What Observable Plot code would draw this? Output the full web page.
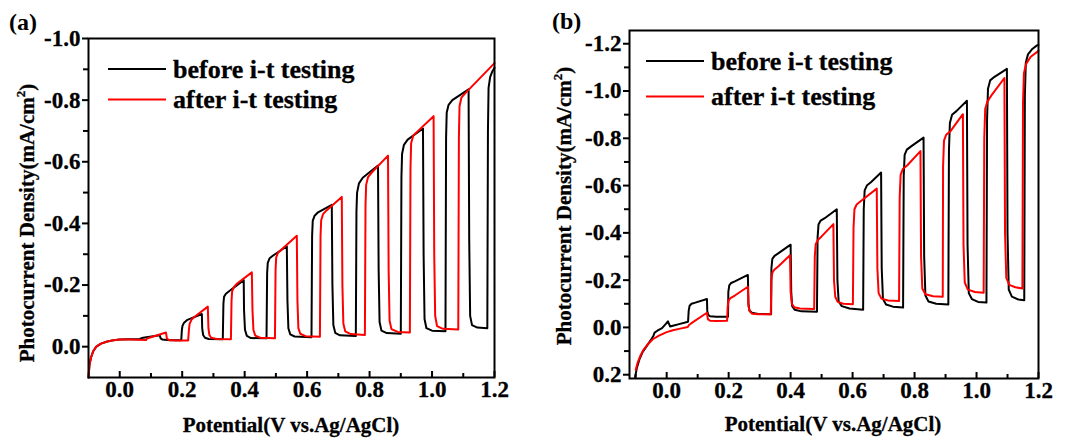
<!DOCTYPE html>
<html><head><meta charset="utf-8">
<script src="https://cdn.jsdelivr.net/npm/d3@7"></script>
<script src="https://cdn.jsdelivr.net/npm/@observablehq/plot@0.6"></script>
<style>
html,body{margin:0;padding:0;background:#fff;}
#wrap{display:flex;width:1071px;height:442px;overflow:hidden;}
#wrap svg{flex:none;}
</style></head><body><div id="wrap"></div>
<script>
// ---------- tick values ----------
const aXTicks = [0.0, 0.2, 0.4, 0.6, 0.8, 1.0, 1.2];
const aXMinor = [0.1, 0.3, 0.5, 0.7, 0.9, 1.1];
const aYTicks = [-1.0, -0.8, -0.6, -0.4, -0.2, 0.0];
const aYMinor = [-0.9, -0.7, -0.5, -0.3, -0.1];
const bXTicks = [0.0, 0.2, 0.4, 0.6, 0.8, 1.0, 1.2];
const bXMinor = [-0.1, 0.1, 0.3, 0.5, 0.7, 0.9, 1.1];
const bYTicks = [-1.2, -1.0, -0.8, -0.6, -0.4, -0.2, 0.0, 0.2];
const bYMinor = [-1.1, -0.9, -0.7, -0.5, -0.3, -0.1, 0.1];

const seriesNames = ["before i-t testing", "after i-t testing"];
const xTitle = "Potential(V vs.Ag/AgCl)";

// ---------- panel (a) : [potential V, current density mA/cm2] ----------
const aBefore = [
  [-0.1,0.1],[-0.097,0.06],[-0.092,0.035],[-0.085,0.015],[-0.075,0.0],[-0.06,-0.01],[-0.04,-0.017],[-0.02,-0.021],[0.0,-0.023],[0.03,-0.024],[0.065,-0.024],
  [0.067,-0.027],[0.075,-0.029],[0.128,-0.037],[0.131,-0.027],[0.137,-0.023],[0.16,-0.021],[0.197,-0.021],
  [0.199,-0.055],[0.201,-0.068],[0.206,-0.078],[0.215,-0.086],[0.263,-0.106],[0.264,-0.06],[0.267,-0.038],[0.273,-0.029],[0.285,-0.025],[0.33,-0.024],
  [0.332,-0.14],[0.334,-0.162],[0.34,-0.172],[0.35,-0.18],[0.397,-0.216],[0.398,-0.12],[0.401,-0.055],[0.407,-0.035],[0.42,-0.028],[0.47,-0.027],
  [0.472,-0.24],[0.474,-0.272],[0.48,-0.287],[0.49,-0.295],[0.535,-0.326],[0.537,-0.15],[0.54,-0.06],[0.546,-0.04],[0.56,-0.033],[0.614,-0.031],
  [0.616,-0.36],[0.618,-0.408],[0.624,-0.425],[0.635,-0.436],[0.679,-0.46],[0.681,-0.2],[0.684,-0.07],[0.69,-0.045],[0.705,-0.037],[0.756,-0.035],
  [0.758,-0.44],[0.76,-0.5],[0.766,-0.53],[0.778,-0.548],[0.827,-0.588],[0.829,-0.25],[0.832,-0.08],[0.838,-0.052],[0.855,-0.044],[0.9,-0.042],
  [0.902,-0.55],[0.904,-0.625],[0.91,-0.655],[0.922,-0.672],[0.971,-0.708],[0.973,-0.3],[0.976,-0.09],[0.982,-0.06],[1.0,-0.052],[1.043,-0.05],
  [1.045,-0.68],[1.047,-0.76],[1.053,-0.785],[1.065,-0.8],[1.117,-0.835],[1.119,-0.35],[1.122,-0.1],[1.128,-0.07],[1.145,-0.062],[1.177,-0.06],
  [1.179,-0.7],[1.181,-0.84],[1.186,-0.875],[1.193,-0.893],[1.2,-0.905]
];
const aAfter = [
  [-0.1,0.1],[-0.097,0.06],[-0.092,0.035],[-0.085,0.015],[-0.075,0.0],[-0.06,-0.01],[-0.04,-0.017],[-0.02,-0.021],[0.0,-0.023],[0.03,-0.023],[0.085,-0.022],
  [0.087,-0.026],[0.095,-0.029],[0.148,-0.046],[0.151,-0.027],[0.157,-0.022],[0.18,-0.02],[0.219,-0.02],
  [0.222,-0.06],[0.224,-0.075],[0.23,-0.088],[0.24,-0.097],[0.282,-0.13],[0.284,-0.06],[0.287,-0.038],[0.293,-0.029],[0.31,-0.025],[0.356,-0.024],
  [0.358,-0.15],[0.36,-0.18],[0.366,-0.194],[0.376,-0.205],[0.423,-0.241],[0.425,-0.12],[0.428,-0.055],[0.434,-0.036],[0.45,-0.029],[0.497,-0.027],
  [0.499,-0.25],[0.501,-0.29],[0.507,-0.305],[0.518,-0.315],[0.567,-0.36],[0.569,-0.15],[0.572,-0.06],[0.578,-0.042],[0.595,-0.034],[0.641,-0.032],
  [0.643,-0.36],[0.645,-0.41],[0.651,-0.43],[0.663,-0.443],[0.711,-0.486],[0.713,-0.2],[0.716,-0.075],[0.722,-0.05],[0.74,-0.041],[0.785,-0.038],
  [0.787,-0.46],[0.789,-0.525],[0.795,-0.55],[0.807,-0.565],[0.859,-0.62],[0.861,-0.25],[0.864,-0.085],[0.87,-0.057],[0.89,-0.048],[0.929,-0.046],
  [0.931,-0.58],[0.933,-0.66],[0.94,-0.685],[0.952,-0.697],[1.005,-0.748],[1.007,-0.3],[1.01,-0.1],[1.016,-0.067],[1.035,-0.058],[1.084,-0.056],
  [1.086,-0.68],[1.088,-0.78],[1.094,-0.808],[1.106,-0.822],[1.2,-0.92]
];

// ---------- panel (b) ----------
const bBefore = [
  [-0.102,0.21],[-0.096,0.17],[-0.088,0.135],[-0.078,0.105],[-0.065,0.08],[-0.052,0.055],[-0.043,0.036],[-0.039,0.022],[-0.03,0.014],[-0.015,0.003],[-0.002,-0.016],[0.004,-0.026],[0.011,-0.004],[0.02,-0.007],[0.04,-0.014],[0.069,-0.024],
  [0.071,-0.07],[0.074,-0.092],[0.08,-0.1],[0.09,-0.104],[0.13,-0.12],[0.131,-0.07],[0.134,-0.053],[0.14,-0.047],[0.16,-0.045],[0.198,-0.045],
  [0.199,-0.15],[0.202,-0.178],[0.208,-0.188],[0.22,-0.195],[0.262,-0.222],[0.264,-0.1],[0.267,-0.072],[0.275,-0.062],[0.295,-0.057],[0.337,-0.056],
  [0.338,-0.25],[0.341,-0.29],[0.348,-0.303],[0.36,-0.313],[0.4,-0.35],[0.402,-0.15],[0.405,-0.09],[0.413,-0.075],[0.435,-0.068],[0.485,-0.066],
  [0.487,-0.38],[0.49,-0.435],[0.497,-0.452],[0.51,-0.462],[0.549,-0.5],[0.551,-0.2],[0.555,-0.11],[0.565,-0.09],[0.59,-0.08],[0.634,-0.075],
  [0.636,-0.5],[0.639,-0.58],[0.646,-0.6],[0.66,-0.615],[0.692,-0.655],[0.694,-0.25],[0.698,-0.12],[0.708,-0.097],[0.73,-0.088],[0.763,-0.084],
  [0.765,-0.64],[0.768,-0.73],[0.775,-0.752],[0.79,-0.767],[0.829,-0.803],[0.831,-0.3],[0.835,-0.135],[0.845,-0.11],[0.87,-0.1],[0.909,-0.097],
  [0.911,-0.75],[0.914,-0.865],[0.921,-0.9],[0.935,-0.915],[0.969,-0.959],[0.971,-0.35],[0.975,-0.145],[0.985,-0.12],[1.005,-0.108],[1.032,-0.105],
  [1.034,-0.88],[1.037,-1.01],[1.044,-1.045],[1.058,-1.06],[1.098,-1.094],[1.1,-0.4],[1.104,-0.16],[1.114,-0.13],[1.135,-0.118],[1.154,-0.115],
  [1.156,-0.98],[1.159,-1.12],[1.166,-1.155],[1.18,-1.178],[1.195,-1.193],[1.2,-1.195]
];
const bAfter = [
  [-0.1,0.18],[-0.094,0.15],[-0.085,0.12],[-0.075,0.095],[-0.06,0.07],[-0.045,0.05],[-0.025,0.035],[0.0,0.02],[0.02,0.012],[0.04,0.006],[0.068,-0.002],
  [0.072,-0.01],[0.08,-0.018],[0.13,-0.062],[0.133,-0.035],[0.14,-0.028],[0.16,-0.027],[0.195,-0.028],
  [0.197,-0.09],[0.2,-0.115],[0.207,-0.125],[0.22,-0.135],[0.262,-0.172],[0.264,-0.09],[0.268,-0.068],[0.276,-0.058],[0.295,-0.056],[0.336,-0.056],
  [0.338,-0.2],[0.341,-0.232],[0.348,-0.245],[0.36,-0.258],[0.398,-0.305],[0.4,-0.15],[0.404,-0.1],[0.412,-0.085],[0.43,-0.08],[0.476,-0.078],
  [0.478,-0.3],[0.481,-0.352],[0.488,-0.37],[0.5,-0.385],[0.538,-0.437],[0.54,-0.2],[0.544,-0.13],[0.552,-0.108],[0.57,-0.1],[0.601,-0.098],
  [0.603,-0.42],[0.606,-0.5],[0.613,-0.52],[0.627,-0.535],[0.678,-0.587],[0.68,-0.25],[0.684,-0.145],[0.693,-0.122],[0.715,-0.114],[0.75,-0.112],
  [0.752,-0.55],[0.755,-0.645],[0.762,-0.67],[0.776,-0.685],[0.819,-0.746],[0.821,-0.3],[0.825,-0.165],[0.835,-0.14],[0.86,-0.132],[0.891,-0.13],
  [0.892,-0.68],[0.895,-0.79],[0.902,-0.815],[0.916,-0.83],[0.956,-0.902],[0.958,-0.35],[0.962,-0.19],[0.972,-0.16],[0.995,-0.15],[1.023,-0.147],
  [1.025,-0.8],[1.028,-0.925],[1.035,-0.955],[1.05,-0.985],[1.09,-1.055],[1.092,-0.4],[1.096,-0.21],[1.106,-0.18],[1.125,-0.17],[1.148,-0.165],
  [1.15,-0.95],[1.153,-1.075],[1.16,-1.115],[1.175,-1.145],[1.2,-1.17]
];

const FONT = "'Liberation Serif','Times New Roman',serif";
const fmt = d => d.toFixed(1);

function panel(p) {
  const svg = Plot.plot({
    width: p.width, height: 442,
    marginLeft: p.ml, marginRight: p.mr, marginTop: p.mt, marginBottom: p.mb,
    style: "font-family: 'Liberation Serif', 'Times New Roman', serif; font-weight: bold; font-size: 23px; color: black; background: white; overflow: visible;",
    x: {domain: p.xDomain},
    y: {domain: p.yDomain},
    marks: [
      Plot.line(p.before, {x: d => d[0], y: d => d[1], stroke: "#000000", strokeWidth: 2, strokeLinejoin: "round"}),
      Plot.line(p.after, {x: d => d[0], y: d => d[1], stroke: "#ff0000", strokeWidth: 2, strokeLinejoin: "round"}),
      Plot.frame({stroke: "black", strokeWidth: 2}),
      Plot.axisY(p.yTicks, {tickSize: 6, tickPadding: 2, tickFormat: fmt, strokeWidth: 2, label: null, fill: "black"}),
      Plot.axisY(p.yMinor, {tickSize: 5, tickFormat: () => "", strokeWidth: 2, label: null}),
      Plot.axisX(p.xTicks, {tickSize: 6, dy: -6, tickFormat: () => "", strokeWidth: 2, label: null}),
      Plot.axisX(p.xMinor, {tickSize: 4, dy: -4, tickFormat: () => "", strokeWidth: 2, label: null}),
      Plot.axisX(p.xTicks, {tickSize: 0, tickPadding: 3, tickFormat: fmt, label: null, fill: "black"})
    ]
  });
  const s = d3.select(svg);
  s.selectAll("text").attr("font-family", FONT).attr("font-weight", "bold").attr("font-size", 23)
    .attr("stroke", "black").attr("stroke-width", 0.3);
  // panel letter
  s.append("text").attr("x", p.letterX).attr("y", p.letterY)
    .attr("font-family", FONT).attr("font-weight", "bold").attr("font-size", 24).attr("text-anchor", "start")
    .text(p.letter);
  // x title
  s.append("text").attr("x", p.xtX).attr("y", p.xtY)
    .attr("font-family", FONT).attr("font-weight", "bold").attr("font-size", 21).attr("text-anchor", "middle")
    .attr("stroke", "black").attr("stroke-width", 0.3)
    .text(xTitle);
  // y title
  const yt = s.append("text").attr("transform", `translate(${p.ytX},${p.ytY}) rotate(-90)`)
    .attr("font-family", FONT).attr("font-weight", "bold").attr("font-size", 21).attr("text-anchor", "middle")
    .attr("stroke", "black").attr("stroke-width", 0.3);
  yt.append("tspan").text("Photocurrent Density(mA/cm");
  yt.append("tspan").attr("dy", -9).attr("font-size", 13).text("2");
  yt.append("tspan").attr("dy", 9).text(")");
  // legend
  const colors = ["#000000", "#ff0000"];
  seriesNames.forEach((name, i) => {
    const ly = p.legY[i];
    s.append("line").attr("x1", p.legX1).attr("x2", p.legX2).attr("y1", ly).attr("y2", ly)
      .attr("stroke", colors[i]).attr("stroke-width", 2);
    s.append("text").attr("x", p.legTX).attr("y", ly + 8.5)
      .attr("font-family", FONT).attr("font-weight", "bold").attr("font-size", 26).attr("text-anchor", "start")
      .attr("stroke", "black").attr("stroke-width", 0.3)
      .text(name);
  });
  return svg;
}

const wrap = document.getElementById("wrap");
wrap.appendChild(panel({
  width: 535, ml: 88, mr: 41, mt: 38, mb: 65,
  xDomain: [-0.1, 1.2], yDomain: [0.1, -1.0],
  xTicks: aXTicks, xMinor: aXMinor, yTicks: aYTicks, yMinor: aYMinor,
  before: aBefore, after: aAfter,
  letter: "(a)", letterX: 9, letterY: 30,
  xtX: 291, xtY: 432, ytX: 34, ytY: 223,
  legX1: 108, legX2: 166, legY: [69, 99.5], legTX: 173
}));
wrap.appendChild(panel({
  width: 536, ml: 94, mr: 33, mt: 30, mb: 64,
  xDomain: [-0.12, 1.2], yDomain: [0.216, -1.256],
  xTicks: bXTicks, xMinor: bXMinor, yTicks: bYTicks, yMinor: bYMinor,
  before: bBefore, after: bAfter,
  letter: "(b)", letterX: 17, letterY: 29,
  xtX: 298, xtY: 431, ytX: 36, ytY: 206,
  legX1: 111, legX2: 169, legY: [61, 96.5], legTX: 176
}));
</script></body></html>
